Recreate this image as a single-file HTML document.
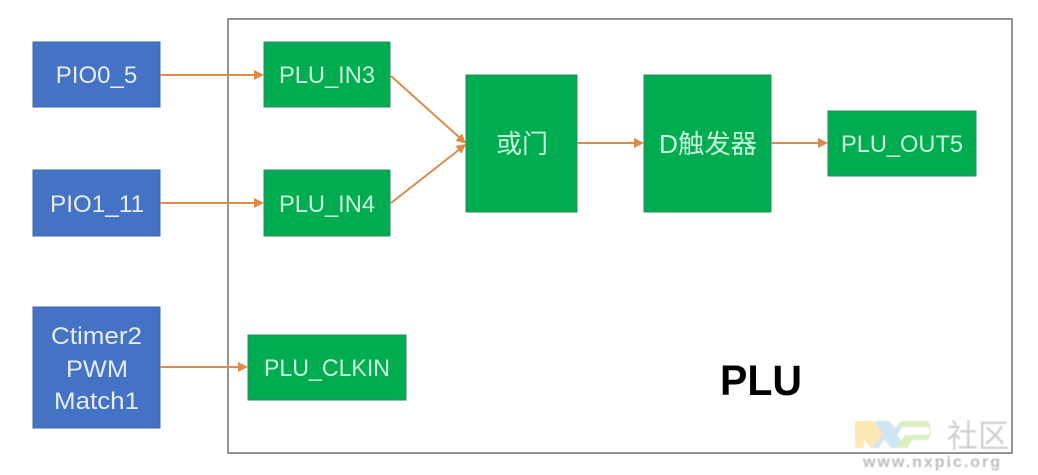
<!DOCTYPE html>
<html lang="zh">
<head>
<meta charset="utf-8">
<style>
html,body{margin:0;padding:0;background:#fff}
svg{display:block}
text{font-family:"Liberation Sans","Noto Sans CJK SC",sans-serif;text-anchor:middle}
.g{fill:#00ac50;stroke:#2f8a63;stroke-width:1}
.b{fill:#4472c4;stroke:#3c64a8;stroke-width:1}
.t{font-size:24px;fill:#c9f5dc}
.c{font-size:26px;fill:#c9f5dc}
.w{font-size:24px;fill:#e6edf9}
.l{stroke:#df8a48;stroke-width:2;fill:none}
.h{fill:#df8a48}
</style>
</head>
<body>
<svg width="1038" height="475" viewBox="0 0 1038 475" xmlns="http://www.w3.org/2000/svg">
<defs><filter id="s" x="-5%" y="-5%" width="110%" height="110%"><feGaussianBlur stdDeviation="0.6"/></filter></defs>
<rect width="1038" height="475" fill="#fff"/>
<rect x="228" y="19" width="784" height="434" fill="#fff" stroke="#707070" stroke-width="1.500"/>

<rect class="b" x="33" y="42" width="127" height="65"/>
<rect class="b" x="33" y="170" width="127" height="66"/>
<rect class="b" x="33" y="307" width="127" height="121"/>
<text class="w" x="96.500" y="83">PIO0_5</text>
<text class="w" x="97" y="212" textLength="94" lengthAdjust="spacingAndGlyphs">PIO1_11</text>
<text class="w" x="96.500" y="344" textLength="91" lengthAdjust="spacingAndGlyphs">Ctimer2</text>
<text class="w" x="97" y="377" textLength="62" lengthAdjust="spacingAndGlyphs">PWM</text>
<text class="w" x="96.500" y="409" textLength="85" lengthAdjust="spacingAndGlyphs">Match1</text>

<rect class="g" x="264" y="42" width="126" height="65"/>
<rect class="g" x="264" y="170" width="126" height="66"/>
<rect class="g" x="248" y="335" width="158" height="65"/>
<rect class="g" x="466" y="75" width="111" height="137"/>
<rect class="g" x="644" y="75" width="127" height="137"/>
<rect class="g" x="828" y="111" width="148" height="65"/>
<text class="t" x="327" y="83" textLength="96" lengthAdjust="spacingAndGlyphs">PLU_IN3</text>
<text class="t" x="327" y="212" textLength="96" lengthAdjust="spacingAndGlyphs">PLU_IN4</text>
<text class="t" x="327" y="376" textLength="126" lengthAdjust="spacingAndGlyphs">PLU_CLKIN</text>
<text class="c" x="522" y="153">或门</text>
<text class="c" x="708" y="153" textLength="98" lengthAdjust="spacingAndGlyphs">D触发器</text>
<text class="t" x="902" y="152" textLength="122" lengthAdjust="spacingAndGlyphs">PLU_OUT5</text>

<path class="l" d="M160 75H256"/><path class="h" d="M264 75l-10-5v10z"/>
<path class="l" d="M160 203H256"/><path class="h" d="M264 203l-10-5v10z"/>
<path class="l" d="M160 367H240"/><path class="h" d="M248 367l-10-5v10z"/>
<path class="l" d="M391 76L460 138"/><path class="h" d="M466 143.500l-4-10-6.500 7.400z"/>
<path class="l" d="M391 203L460 149"/><path class="h" d="M466 144l-10.500 2 6 7.700z"/>
<path class="l" d="M577 143H636"/><path class="h" d="M644 143l-10-5v10z"/>
<path class="l" d="M771 143H820"/><path class="h" d="M828 143l-10-5v10z"/>

<text x="761" y="395" textLength="82" lengthAdjust="spacingAndGlyphs" style="font-size:43px;font-weight:bold;fill:#000">PLU</text>

<g filter="url(#s)">
<path d="M855 421h17l17 14-11 13h-7l-7-9v9h-9z" fill="#fbe8b4"/>
<path d="M874 421h15l6 7 6-7h6l-10 14 9 13h-15l-7-9-6 9h-6l11-14z" fill="#cfe6f2"/>
<path d="M903 421h25a10 13.500 0 0 1 0 19h-15l-6 8h-11l9-13h21a3 3 0 0 0 0-8h-29z" fill="#dcefc0"/>
<text x="978" y="447" textLength="62" lengthAdjust="spacingAndGlyphs" style="font-size:32px;fill:#cfcfcf">社区</text>
<text x="931.500" y="467" textLength="137" style="font-size:16px;font-weight:bold;fill:#bdbdbd">www.nxpic.org</text>
</g>
</svg>
</body>
</html>
